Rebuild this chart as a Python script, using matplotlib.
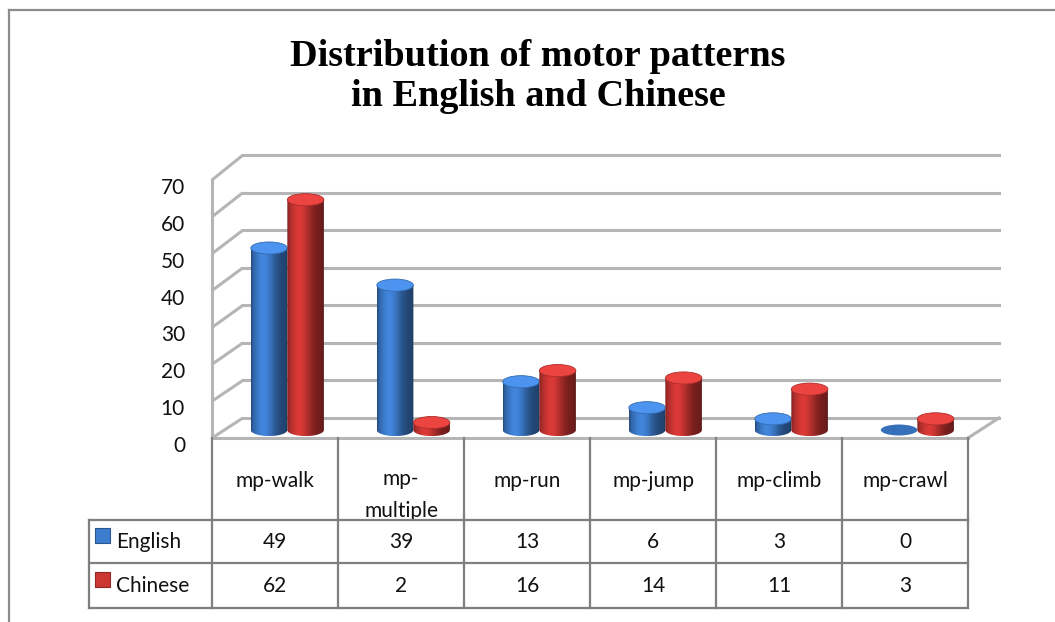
import matplotlib
matplotlib.use('Agg')
import matplotlib.pyplot as plt
import numpy as np
from matplotlib.patches import Ellipse, PathPatch, Rectangle
from matplotlib.path import Path
from matplotlib.lines import Line2D
from matplotlib import transforms

categories = ['mp-walk', 'mp-multiple', 'mp-run', 'mp-jump', 'mp-climb', 'mp-crawl']
header_labels = ['mp-walk', 'mp-\nmultiple', 'mp-run', 'mp-jump', 'mp-climb', 'mp-crawl']
series_names = ['English', 'Chinese']
english = [49, 39, 13, 6, 3, 0]
chinese = [62, 2, 16, 14, 11, 3]
yticks = [0, 10, 20, 30, 40, 50, 60, 70]

blue = (0.24, 0.49, 0.81)
red = (0.80, 0.21, 0.20)

W, H = 1055, 622
fig = plt.figure(figsize=(W / 100, H / 100), dpi=100)
fig.patch.set_facecolor('white')


def fx(px):
    return px / W


def fy(py):
    return 1 - py / H


ax = fig.add_axes([fx(212), fy(438), fx(968) - fx(212), fy(180) - fy(438)])
ax.axis('off')

# box depth (data units) and back wall scale
DX = 0.245
DY0 = 5.43
KB = 1.019
grid_c = '#b5b5b5'


def back(v):
    return DY0 + KB * v


for v in yticks:
    ax.plot([0, DX], [v, back(v)], color=grid_c, lw=2.2, clip_on=False,
            solid_capstyle='butt', zorder=1)
    if v > 0:
        ax.plot([DX, 6 + DX], [back(v), back(v)], color=grid_c, lw=2.2,
                clip_on=False, zorder=1)
# floor
ax.plot([DX, 6 + DX], [back(0), back(0)], color=grid_c, lw=2.2, clip_on=False, zorder=1)
ax.plot([6, 6 + DX], [0, back(0)], color=grid_c, lw=2.2, clip_on=False, zorder=1)
ax.plot([0, 6], [0, 0], color=grid_c, lw=2.2, clip_on=False, zorder=1)
ax.plot([0, 0], [0, 70], color=grid_c, lw=2.2, clip_on=False, zorder=1)

# y labels sit a little below the front edge positions
lab_tr = ax.transData + transforms.ScaledTranslation(-27 / 100, -8 / 100, fig.dpi_scale_trans)
for v in yticks:
    ax.text(0, v, str(v), transform=lab_tr, ha='right', va='center',
            fontsize=15, family='Lato', color='#111111')

# cylinders
DEPTH = 0.4
BW = 0.29
EH = 1.65


def shade(base, n=80):
    u = np.linspace(0, 1, n)
    f = 0.52 + 0.55 * np.exp(-((u - 0.33) / 0.33) ** 2)
    f[:3] *= 0.85
    f[-3:] *= 0.85
    rgb = np.clip(np.array(base)[None, :] * f[:, None], 0, 1)
    return rgb[None, :, :]


def cylinder(xc, v, base, z):
    x0, x1 = xc - BW / 2, xc + BW / 2
    yb = DEPTH * DY0
    yt = yb + v * (1 + DEPTH * (KB - 1))
    top_col = tuple(min(1, c * 1.12 + 0.03) for c in base)
    if v <= 0:
        ax.add_patch(Ellipse((xc, yb), BW, 2 * EH * 0.9,
                             facecolor=tuple(c * 0.9 for c in base),
                             edgecolor='none', zorder=z))
        return
    th = np.linspace(np.pi, 2 * np.pi, 60)
    verts = [(x0, yt), (x0, yb)]
    verts += list(zip(xc + BW / 2 * np.cos(th), yb + EH * np.sin(th)))
    verts += [(x1, yt), (x0, yt)]
    codes = [Path.MOVETO] + [Path.LINETO] * (len(verts) - 2) + [Path.CLOSEPOLY]
    body = PathPatch(Path(verts, codes), facecolor='none', edgecolor='none',
                     transform=ax.transData)
    ax.add_patch(body)
    im = ax.imshow(shade(base), extent=[x0, x1, yb - EH, yt], aspect='auto',
                   interpolation='bilinear', zorder=z)
    im.set_clip_path(body)
    ax.add_patch(Ellipse((xc, yt), BW, 2 * EH, facecolor=top_col,
                         edgecolor=tuple(c * 0.85 for c in base), lw=0.6, zorder=z + 0.1))


for i in range(len(categories)):
    xc = i + 0.5 + DEPTH * DX
    cylinder(xc - BW / 2, english[i], blue, 3)
    cylinder(xc + BW / 2, chinese[i], red, 4)

ax.set_xlim(0, 6)
ax.set_ylim(0, 70)

# data table under the floor
tc = '#7f7f7f'
bt = transforms.blended_transform_factory(ax.transData, fig.transFigure)
LEG_LEFT = -(212 - 89) / 126
row_y = [fy(520), fy(563), fy(608)]
for x in range(1, 7):
    ax.plot([x, x], [fy(438), row_y[0]], color=tc, lw=1.6, transform=bt, clip_on=False, zorder=7)
for x in [LEG_LEFT] + list(range(0, 7)):
    top = fy(438) if x == 0 else row_y[0]
    ax.plot([x, x], [top, row_y[2]], color=tc, lw=1.6, transform=bt, clip_on=False, zorder=7)
for y in row_y:
    ax.plot([LEG_LEFT, 6], [y, y], color=tc, lw=1.6, transform=bt, clip_on=False, zorder=7)

for i, lab in enumerate(header_labels):
    if '\n' in lab:
        # wrapped label runs past its cell; hide the overflow below the row line
        ax.text(i + 0.5, fy(495), lab, transform=bt, ha='center', va='center',
                fontsize=15, family='Lato', color='#111111', linespacing=1.75,
                clip_on=False, zorder=5)
        ax.add_patch(Rectangle((i, fy(531)), 1, fy(520) - fy(531), transform=bt,
                               facecolor='white', edgecolor='none', clip_on=False, zorder=6))
    else:
        ax.text(i + 0.5, fy(481), lab, transform=bt, ha='center', va='center',
                fontsize=15, family='Lato', color='#111111', clip_on=False)

for row, (vals, name, col) in enumerate(zip([english, chinese], series_names, [blue, red])):
    yc = (row_y[row] + row_y[row + 1]) / 2
    for i, v in enumerate(vals):
        ax.text(i + 0.5, yc, str(v), transform=bt, ha='center', va='center',
                fontsize=15, family='Lato', color='#111111', clip_on=False, zorder=8)
    fig.add_artist(Rectangle((fx(95), yc - 1 / H), fx(15), 15 / H,
                             facecolor=col, edgecolor=tuple(c * 0.7 for c in col), lw=0.8))
    fig.text(fx(116), yc, name, ha='left', va='center', fontsize=15,
             family='Lato', color='#111111')

# title
fig.text(fx(538), fy(56), 'Distribution of motor patterns', ha='center', va='center',
         fontsize=27.5, fontweight='bold', family='Liberation Serif')
fig.text(fx(538), fy(97), 'in English and Chinese', ha='center', va='center',
         fontsize=27.5, fontweight='bold', family='Liberation Serif')

# chart frame
fig.add_artist(Line2D([fx(9), 1], [fy(10), fy(10)], color='#8c8c8c', lw=1.6))
fig.add_artist(Line2D([fx(9), fx(9)], [fy(10), 0], color='#8c8c8c', lw=1.6))

fig.savefig('out.png', dpi=100)
